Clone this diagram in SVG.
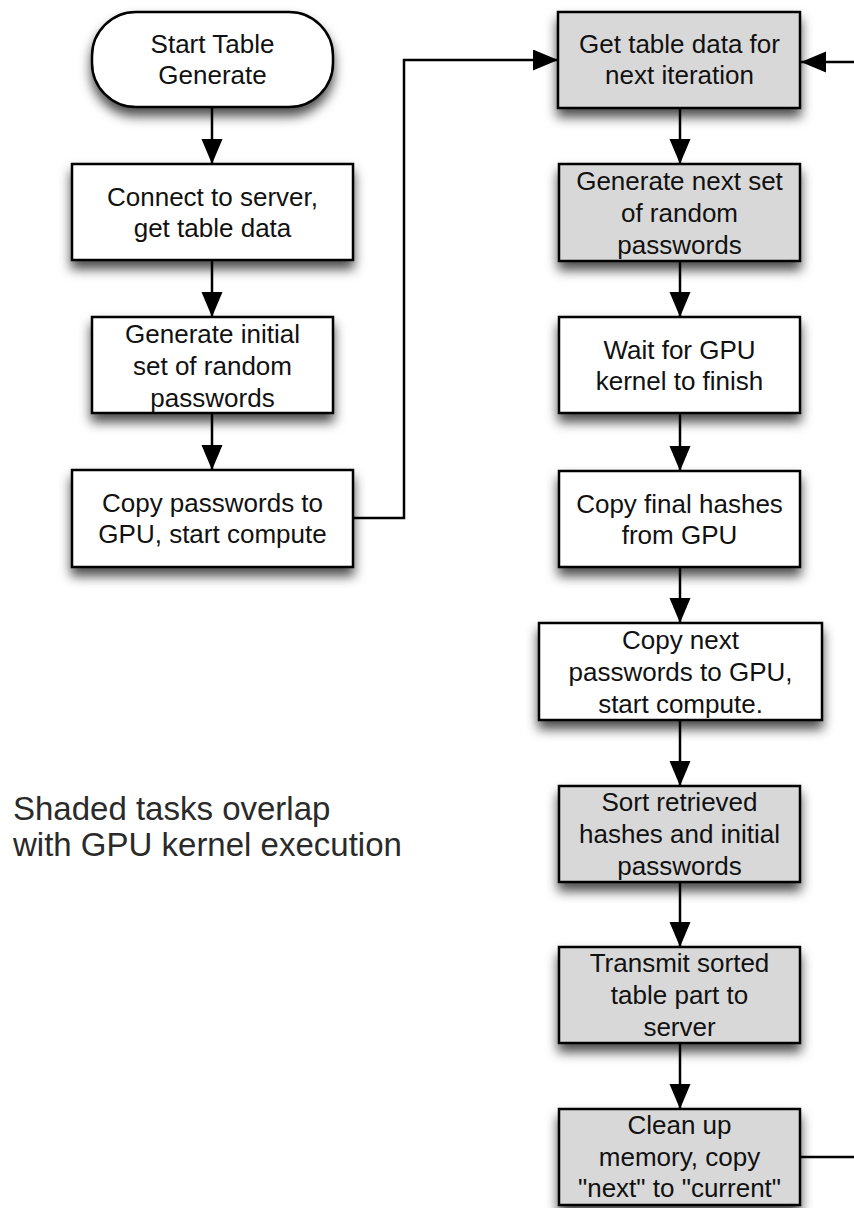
<svg xmlns="http://www.w3.org/2000/svg" width="854" height="1208" viewBox="0 0 854 1208">
<style>
.box{stroke:#000;stroke-width:2.5}
.w{fill:#fff}
.g{fill:#d8d8d8}
.t{font-family:"Liberation Sans",Arial,sans-serif;font-size:26px;fill:#111;text-anchor:middle}
.note{font-family:"Liberation Sans",Arial,sans-serif;font-size:33px;fill:#2a2a2a}
.c{fill:none;stroke:#000;stroke-width:2.5}
</style>
<defs>
<filter id="sh" x="-20%" y="-20%" width="140%" height="170%">
<feDropShadow dx="0" dy="8" stdDeviation="6" flood-color="#000" flood-opacity="0.7"/>
</filter>
<marker id="ah" markerUnits="userSpaceOnUse" markerWidth="26" markerHeight="22" refX="25" refY="10.5" orient="auto">
<path d="M0,0 L25,10.5 L0,21 Z" fill="#000"/>
</marker>
</defs>
<rect width="854" height="1208" fill="#fff"/>

<g id="connectors">
<line class="c" x1="212" y1="107" x2="212" y2="164" marker-end="url(#ah)"/>
<line class="c" x1="212" y1="260" x2="212" y2="317" marker-end="url(#ah)"/>
<line class="c" x1="212" y1="413" x2="212" y2="470" marker-end="url(#ah)"/>
<polyline class="c" points="353,518 404,518 404,60 558,60" marker-end="url(#ah)"/>
<line class="c" x1="854" y1="62" x2="801" y2="62" marker-end="url(#ah)"/>
<line class="c" x1="680" y1="108" x2="680" y2="164" marker-end="url(#ah)"/>
<line class="c" x1="680" y1="261" x2="680" y2="317" marker-end="url(#ah)"/>
<line class="c" x1="680" y1="413" x2="680" y2="471" marker-end="url(#ah)"/>
<line class="c" x1="680" y1="567" x2="680" y2="623" marker-end="url(#ah)"/>
<line class="c" x1="680" y1="720" x2="680" y2="786" marker-end="url(#ah)"/>
<line class="c" x1="680" y1="882" x2="680" y2="947" marker-end="url(#ah)"/>
<line class="c" x1="680" y1="1043" x2="680" y2="1109" marker-end="url(#ah)"/>
<line class="c" x1="800" y1="1157" x2="854" y2="1157"/>
</g>

<g id="start">
<rect class="box w" x="92" y="12" width="241" height="95" rx="44" ry="44" filter="url(#sh)"/>
<text class="t" x="212.5" y="53">Start Table</text>
<text class="t" x="212.5" y="84">Generate</text>
</g>
<g id="connect">
<rect class="box w" x="72" y="164" width="281" height="96" filter="url(#sh)"/>
<text class="t" x="212.5" y="206">Connect to server,</text>
<text class="t" x="212.5" y="237">get table data</text>
</g>
<g id="geninit">
<rect class="box w" x="92" y="317" width="241" height="96" filter="url(#sh)"/>
<text class="t" x="212.5" y="342.5">Generate initial</text>
<text class="t" x="212.5" y="374.5">set of random</text>
<text class="t" x="212.5" y="406.5">passwords</text>
</g>
<g id="copypw">
<rect class="box w" x="72" y="470" width="281" height="97" filter="url(#sh)"/>
<text class="t" x="212.5" y="512">Copy passwords to</text>
<text class="t" x="212.5" y="543">GPU, start compute</text>
</g>

<g id="gettable">
<rect class="box g" x="558" y="12" width="242" height="96" filter="url(#sh)"/>
<text class="t" x="679.5" y="53">Get table data for</text>
<text class="t" x="679.5" y="84">next iteration</text>
</g>
<g id="gennext">
<rect class="box g" x="559" y="164" width="241" height="97" filter="url(#sh)"/>
<text class="t" x="679.5" y="189.5">Generate next set</text>
<text class="t" x="679.5" y="221.5">of random</text>
<text class="t" x="679.5" y="253.5">passwords</text>
</g>
<g id="wait">
<rect class="box w" x="559" y="317" width="241" height="96" filter="url(#sh)"/>
<text class="t" x="679.5" y="359">Wait for GPU</text>
<text class="t" x="679.5" y="390">kernel to finish</text>
</g>
<g id="copyhash">
<rect class="box w" x="559" y="471" width="241" height="96" filter="url(#sh)"/>
<text class="t" x="679.5" y="513">Copy final hashes</text>
<text class="t" x="679.5" y="544">from GPU</text>
</g>
<g id="copynext">
<rect class="box w" x="539" y="623" width="283" height="97" filter="url(#sh)"/>
<text class="t" x="680.5" y="648.5">Copy next</text>
<text class="t" x="680.5" y="680.5">passwords to GPU,</text>
<text class="t" x="680.5" y="712.5">start compute.</text>
</g>
<g id="sort">
<rect class="box g" x="559" y="786" width="241" height="96" filter="url(#sh)"/>
<text class="t" x="679.5" y="811">Sort retrieved</text>
<text class="t" x="679.5" y="843">hashes and initial</text>
<text class="t" x="679.5" y="874.5">passwords</text>
</g>
<g id="transmit">
<rect class="box g" x="559" y="947" width="241" height="96" filter="url(#sh)"/>
<text class="t" x="679.5" y="972">Transmit sorted</text>
<text class="t" x="679.5" y="1004">table part to</text>
<text class="t" x="679.5" y="1035.5">server</text>
</g>
<g id="cleanup">
<rect class="box g" x="559" y="1109" width="241" height="96" filter="url(#sh)"/>
<text class="t" x="679.5" y="1133.5">Clean up</text>
<text class="t" x="679.5" y="1165.5">memory, copy</text>
<text class="t" x="679.5" y="1197">"next" to "current"</text>
</g>

<g id="note">
<text class="note" x="13" y="820">Shaded tasks overlap</text>
<text class="note" x="13" y="856">with GPU kernel execution</text>
</g>
</svg>
